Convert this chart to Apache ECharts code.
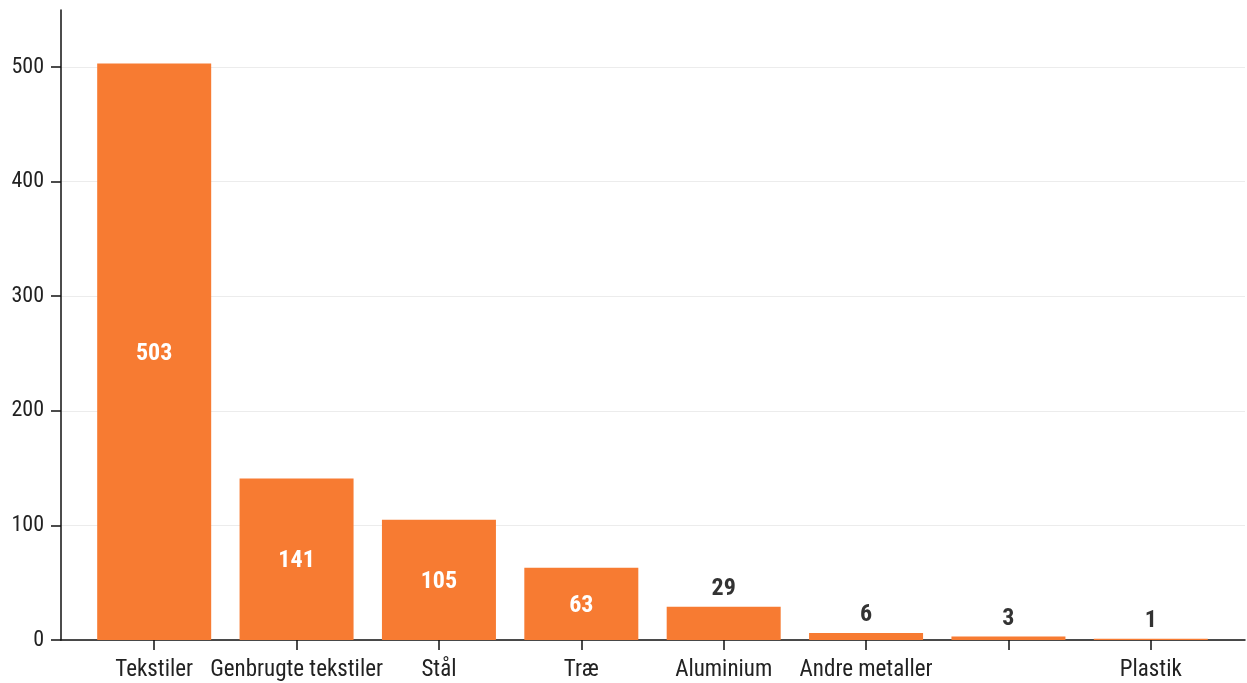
<!DOCTYPE html>
<html>
<head>
<meta charset="utf-8">
<script src="https://cdn.jsdelivr.net/npm/echarts@6/dist/echarts.min.js"></script>
<style>
html,body{margin:0;padding:0;background:#fff;}
#c{width:1247px;height:683px;}
</style>
</head>
<body>
<div id="c"></div>
<script>
const categories = ["Tekstiler", "Genbrugte tekstiler", "Stål", "Træ", "Aluminium", "Andre metaller", "", "Plastik"];
const values = [503, 141, 105, 63, 29, 6, 3, 1];
const yTicks = [0, 100, 200, 300, 400, 500];

const FONT = "'Roboto Condensed', 'Liberation Sans Narrow', 'DejaVu Sans Condensed', Roboto, sans-serif";
const ORANGE = "#F77B32";
const insideThreshold = 50;

const chart = echarts.init(document.getElementById('c'), null, {renderer: 'canvas'});

const barData = values.map(v => ({
  value: v,
  label: v >= insideThreshold
    ? {show: true, position: 'inside', offset: [0, 2], color: '#fff', fontWeight: 'bold', fontSize: 24, fontFamily: FONT}
    : {show: true, position: 'top', distance: 6, color: '#333', fontWeight: 'bold', fontSize: 24, fontFamily: FONT}
}));

chart.setOption({
  animation: false,
  grid: [
    {left: 61, right: 2, top: 10, bottom: 43},   // axis lines
    {left: 83, right: 25, top: 67, bottom: 43},  // bars
    {left: 61, right: 2, top: 67, bottom: 43}    // y ticks, labels, grid lines
  ],
  xAxis: [
    {gridIndex: 0, type: 'value', min: 0, max: 1, axisLine: {show: true, onZero: false, lineStyle: {color: '#111', width: 1.5}},
     axisTick: {show: false}, axisLabel: {show: false}, splitLine: {show: false}},
    {gridIndex: 1, type: 'category', data: categories, boundaryGap: true,
     axisLine: {show: false}, axisTick: {show: true, alignWithLabel: true, length: 10, lineStyle: {color: '#111', width: 1.5}},
     axisLabel: {show: true, interval: 0, margin: 19, fontSize: 23, color: '#222', fontFamily: FONT}, splitLine: {show: false}},
    {gridIndex: 2, type: 'value', min: 0, max: 1, show: false}
  ],
  yAxis: [
    {gridIndex: 0, type: 'value', min: 0, max: 550, axisLine: {show: true, onZero: false, lineStyle: {color: '#111', width: 1.5}},
     axisTick: {show: false}, axisLabel: {show: false}, splitLine: {show: false}},
    {gridIndex: 1, type: 'value', min: 0, max: 500, show: false},
    {gridIndex: 2, type: 'value', min: 0, max: 500, interval: 100,
     axisLine: {show: false}, axisTick: {show: true, length: 10, lineStyle: {color: '#111', width: 1.5}},
     axisLabel: {show: true, margin: 17, fontSize: 22, color: '#222', fontFamily: FONT,
                 formatter: v => yTicks.includes(v) ? String(v) : ''},
     splitLine: {show: true, lineStyle: {color: '#ececec', width: 1}}}
  ],
  series: [
    {type: 'bar', xAxisIndex: 1, yAxisIndex: 1, data: barData, barWidth: 114, clip: false,
     itemStyle: {color: ORANGE}, z: 3}
  ]
});
</script>
</body>
</html>
